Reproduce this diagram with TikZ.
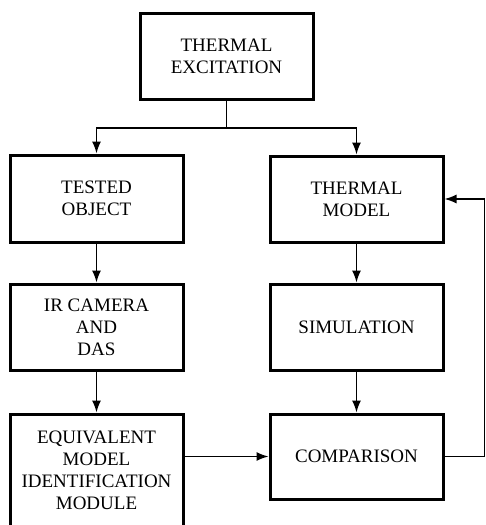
\documentclass[tikz,border=0pt]{standalone}
\usepackage{fontspec}
\setmainfont{Liberation Serif}
\usetikzlibrary{arrows.meta}
\begin{document}
\begin{tikzpicture}[x=1pt,y=-1pt,
  blk/.style={draw, line width=3pt, minimum width=173pt, align=center,
    inner sep=0pt, font=\fontsize{19}{22}\selectfont},
  conn/.style={line width=1.4pt, -{Latex[length=12pt,width=9pt]}},
  plain/.style={line width=1.4pt}]
\useasboundingbox (0,0) rectangle (486,525);
\clip (0,0) rectangle (486,525);
\node[blk, minimum height=86pt] (top) at (226.5,56) {THERMAL\\EXCITATION};
\node[blk, minimum height=87pt] (tested) at (96.5,198.5) {TESTED\\OBJECT};
\node[blk, minimum height=86pt] (model) at (356.5,199) {THERMAL\\MODEL};
\node[blk, minimum height=86pt] (ir) at (96.5,327) {IR CAMERA\\AND\\DAS};
\node[blk, minimum height=86pt] (sim) at (356.5,327) {SIMULATION};
\node[blk, minimum height=112pt] (eq) at (96.5,470) {EQUIVALENT\\MODEL\\IDENTIFICATION\\MODULE};
\node[blk, minimum height=85pt] (cmp) at (356.5,456.5) {COMPARISON};
\coordinate (split) at (226.5,128);
\coordinate (fb) at (484.5,456.5);
\draw[plain] (top.south) -- (split);
\draw[conn] (split) -| (tested.north);
\draw[conn] (split) -| (model.north);
\draw[conn] (tested.south) -- (ir.north);
\draw[conn] (model.south) -- (sim.north);
\draw[conn] (ir.south) -- (eq.north);
\draw[conn] (sim.south) -- (cmp.north);
\draw[conn] (eq.east |- cmp.west) -- (cmp.west);
\draw[conn] (cmp.east) -- (fb) |- (model.east);
\end{tikzpicture}
\end{document}
